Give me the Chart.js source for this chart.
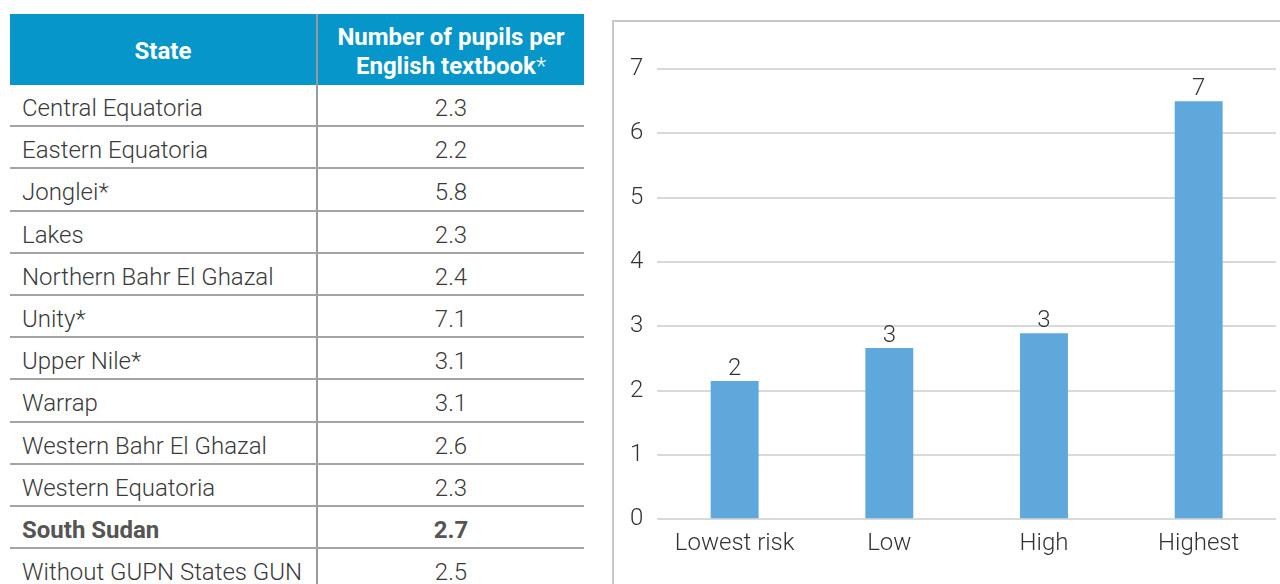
<!DOCTYPE html>
<html lang="en">

<head>
    <meta charset="UTF-8">
    <title>Pupils per English textbook</title>
    <script src="https://cdn.jsdelivr.net/npm/chart.js"></script>
    <style>
        body {
            margin: 0;
            width: 1280px;
            height: 584px;
            overflow: hidden;
            background: #fff;
            font-family: Roboto, "DejaVu Sans", sans-serif;
            color: #3a3a3a;
        }

        #stateTable {
            position: absolute;
            left: 10px;
            top: 14px;
            width: 574px;
            border-collapse: collapse;
            font-size: 24px;
            font-weight: 300;
        }

        #stateTable th {
            background: #0796c9;
            color: #fff;
            font-weight: 700;
            height: 71px;
            line-height: 29px;
            padding: 0;
            text-align: center;
        }

        #stateTable th span.lift {
            position: relative;
            top: 2px;
        }

        #stateTable th:first-child {
            width: 306px;
            border-right: 2px solid #9a9a9a;
        }

        #stateTable th .star {
            font-weight: 300;
        }

        #stateTable td {
            height: 40.2px;
            padding: 0;
            border-bottom: 2px solid #a4a4a4;
        }

        #stateTable td span {
            position: relative;
            top: 3px;
        }

        #stateTable td:first-child {
            padding-left: 12px;
            border-right: 2px solid #9a9a9a;
        }

        #stateTable td:last-child {
            text-align: center;
        }

        #stateTable tr.total td {
            font-weight: 700;
            color: #555;
        }

        #chartBox {
            position: absolute;
            left: 612px;
            top: 20px;
            width: 700px;
            height: 620px;
            border: 2px solid #c8c8cc;
        }

        #riskChart {
            position: absolute;
            left: 0;
            top: 0;
        }
    </style>
</head>

<body>
    <table id="stateTable">
        <thead>
            <tr>
                <th><span class="lift">State</span></th>
                <th><span class="lift">Number of pupils per<br>English textbook<span class="star">*</span></span></th>
            </tr>
        </thead>
        <tbody></tbody>
    </table>

    <div id="chartBox">
        <canvas id="riskChart" width="670" height="562"></canvas>
    </div>

    <script>
        const states = ['Central Equatoria', 'Eastern Equatoria', 'Jonglei*', 'Lakes',
            'Northern Bahr El Ghazal', 'Unity*', 'Upper Nile*', 'Warrap',
            'Western Bahr El Ghazal', 'Western Equatoria', 'South Sudan', 'Without GUPN States GUN'];
        const pupilsPerBook = ['2.3', '2.2', '5.8', '2.3', '2.4', '7.1', '3.1', '3.1', '2.6', '2.3', '2.7', '2.5'];
        const totalRow = 'South Sudan';

        const riskLabels = ['Lowest risk', 'Low', 'High', 'Highest'];
        const riskValues = [2.15, 2.66, 2.89, 6.5];

        // fill the table
        const tbody = document.querySelector('#stateTable tbody');
        states.forEach((s, i) => {
            const tr = document.createElement('tr');
            if (s === totalRow) tr.className = 'total';
            tr.innerHTML = `<td><span>${s}</span></td><td><span>${pupilsPerBook[i]}</span></td>`;
            tbody.appendChild(tr);
        });

        const fontFamily = 'Roboto, "DejaVu Sans", sans-serif';

        // rounded value above each bar
        const barLabels = {
            id: 'barLabels',
            afterDatasetsDraw(chart) {
                const ctx = chart.ctx;
                const meta = chart.getDatasetMeta(0);
                ctx.save();
                ctx.font = '300 24px ' + fontFamily;
                ctx.fillStyle = '#333';
                ctx.textAlign = 'center';
                ctx.textBaseline = 'alphabetic';
                meta.data.forEach((bar, i) => {
                    ctx.fillText(Math.round(riskValues[i]), bar.x, bar.y - 6);
                });
                ctx.restore();
            }
        };

        const ctx = document.getElementById('riskChart').getContext('2d');
        new Chart(ctx, {
            type: 'bar',
            data: {
                labels: riskLabels,
                datasets: [{
                    data: riskValues,
                    backgroundColor: '#5fa8dc',
                    categoryPercentage: 1,
                    barPercentage: 0.31
                }]
            },
            options: {
                responsive: false,
                animation: false,
                layout: {
                    padding: { left: 2, top: 47, right: 8, bottom: 16 }
                },
                scales: {
                    x: {
                        grid: { display: false, drawTicks: false },
                        border: { display: false },
                        ticks: {
                            color: '#333',
                            padding: 10,
                            font: { family: fontFamily, size: 24, weight: 300 }
                        }
                    },
                    y: {
                        min: 0,
                        max: 7,
                        grid: { color: '#d9d9d9', lineWidth: 2, drawTicks: false },
                        border: { display: false },
                        ticks: {
                            stepSize: 1,
                            color: '#333',
                            padding: 14,
                            font: { family: fontFamily, size: 24, weight: 300 }
                        }
                    }
                },
                plugins: {
                    legend: { display: false },
                    tooltip: { enabled: false }
                }
            },
            plugins: [barLabels]
        });
    </script>
</body>

</html>
